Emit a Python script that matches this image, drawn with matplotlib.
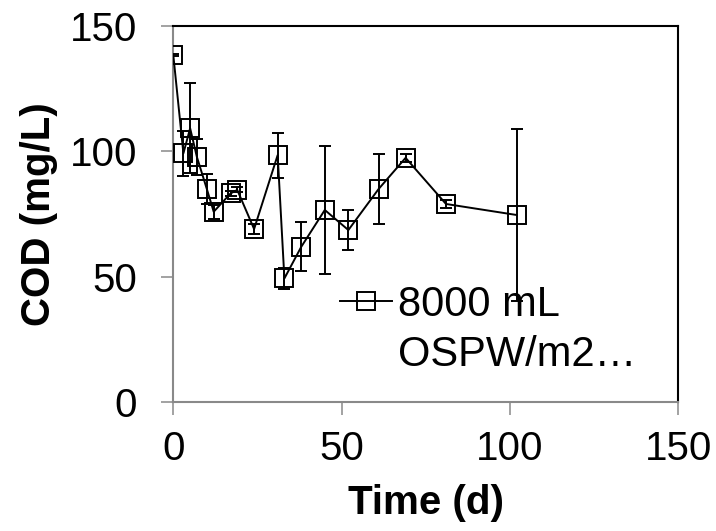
import matplotlib
matplotlib.use('Agg')
import matplotlib.pyplot as plt
from matplotlib.lines import Line2D

plt.rcParams['font.family'] = ['Liberation Sans', 'DejaVu Sans']

# Data
time_d = [0, 3, 5, 7, 10, 12, 17, 19, 24, 31, 33, 38, 45, 52, 61, 69, 81, 102]
cod = [138.4, 99.2, 109.2, 97.8, 84.8, 75.9, 83.2, 84.6, 69.0, 98.5, 49.3,
       61.9, 76.6, 68.6, 85.0, 97.4, 79.0, 74.6]
cod_err = [0.4, 9.0, 18.0, 7.3, 6.0, 2.7, 1.0, 1.0, 1.9, 9.0, 4.3, 9.8, 25.5,
           7.8, 14.0, 1.5, 1.5, 34.3]
x_ticks = [0, 50, 100, 150]
y_ticks = [0, 50, 100, 150]
series_label = ["8000 mL", "OSPW/m2\u2026"]
x_label = "Time (d)"
y_label = "COD (mg/L)"

W, H = 716, 531
fig = plt.figure(figsize=(W / 100, H / 100), dpi=100)
ax = fig.add_axes([173.3 / W, 1 - 402 / H, 505 / W, 376 / H])

LW = 1.4
ax.errorbar(time_d, cod, yerr=cod_err, color='black', lw=LW, marker='s',
            ms=13, mfc='none', mec='black', mew=LW, capsize=4.5,
            capthick=LW, elinewidth=LW, zorder=3)

ax.set_xlim(0, 150)
ax.set_ylim(0, 150)
ax.set_xticks(x_ticks)
ax.set_yticks(y_ticks)

gray = '#898989'
for s in ['left', 'bottom']:
    ax.spines[s].set_color(gray)
    ax.spines[s].set_linewidth(1.5)
for s in ['top', 'right']:
    ax.spines[s].set_color('black')
    ax.spines[s].set_linewidth(1.5)

ax.tick_params(axis='both', direction='out', length=9, width=1.1, color=gray,
               labelsize=29, labelcolor='black')
ax.tick_params(axis='x', pad=11)
ax.tick_params(axis='y', pad=17)

ax.set_xlabel(x_label, fontsize=29, fontweight='bold')
ax.set_ylabel(y_label, fontsize=29, fontweight='bold')
ax.xaxis.set_label_coords(0.5, -0.218)
ax.yaxis.set_label_coords(-0.228, 0.5)

h1 = Line2D([], [], color='black', lw=LW, marker='s', ms=13, mfc='none',
            mec='black', mew=LW)
h2 = Line2D([], [], linestyle='none', marker=None)
leg = ax.legend([h1, h2], series_label, loc='upper left',
                bbox_to_anchor=(356.7 / W, 1 - 301.7 / H),
                bbox_transform=fig.transFigure, fontsize=30, frameon=True,
                fancybox=False, facecolor='white', edgecolor='none',
                framealpha=1, borderpad=-0.4, borderaxespad=0,
                handlelength=1.25, handletextpad=0.15, labelspacing=0.25)

fig.savefig('out.png', dpi=100)
